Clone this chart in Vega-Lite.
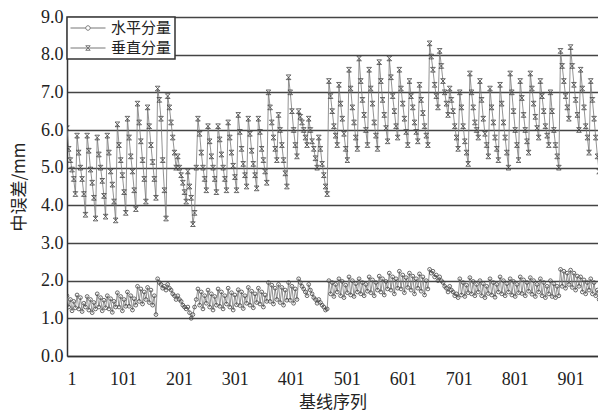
{
"$schema":"https://vega.github.io/schema/vega-lite/v6.json",
"width":531,"height":339,
"autosize":{"type":"none"},
"padding":{"left":67,"top":17,"right":0,"bottom":61},
"background":"white",
"config":{"view":{"stroke":null},"font":"Liberation Serif"},
"data":{"values":[
{"i":1,"h":1.6,"v":6.05},{"i":4,"h":1.3,"v":5.5},{"i":7,"h":1.5,"v":5.2},{"i":10,"h":1.2,"v":4.95},{"i":13,"h":1.45,"v":4.7},{"i":16,"h":1.28,"v":4.3},
{"i":19,"h":1.62,"v":5.85},{"i":22,"h":1.25,"v":5.4},{"i":25,"h":1.55,"v":5.0},{"i":28,"h":1.18,"v":4.7},{"i":31,"h":1.4,"v":4.3},{"i":34,"h":1.3,"v":3.75},
{"i":37,"h":1.58,"v":5.85},{"i":40,"h":1.22,"v":5.45},{"i":43,"h":1.5,"v":4.95},{"i":46,"h":1.15,"v":4.6},{"i":49,"h":1.42,"v":4.2},{"i":52,"h":1.25,"v":3.65},
{"i":55,"h":1.65,"v":5.8},{"i":58,"h":1.3,"v":5.35},{"i":61,"h":1.55,"v":5.0},{"i":64,"h":1.2,"v":4.65},{"i":67,"h":1.48,"v":4.25},{"i":70,"h":1.28,"v":3.7},
{"i":73,"h":1.6,"v":5.85},{"i":76,"h":1.25,"v":5.4},{"i":79,"h":1.52,"v":4.9},{"i":82,"h":1.16,"v":4.55},{"i":85,"h":1.45,"v":4.1},{"i":88,"h":1.3,"v":3.6},
{"i":91,"h":1.68,"v":6.15},{"i":94,"h":1.3,"v":5.6},{"i":97,"h":1.58,"v":5.2},{"i":100,"h":1.2,"v":4.8},{"i":103,"h":1.5,"v":4.35},{"i":106,"h":1.32,"v":3.8},
{"i":109,"h":1.7,"v":6.3},{"i":112,"h":1.32,"v":5.8},{"i":115,"h":1.6,"v":5.3},{"i":118,"h":1.22,"v":4.9},{"i":121,"h":1.52,"v":4.4},{"i":124,"h":1.35,"v":3.9},
{"i":127,"h":1.85,"v":6.7},{"i":130,"h":1.45,"v":6.2},{"i":133,"h":1.78,"v":5.7},{"i":136,"h":1.38,"v":5.2},{"i":139,"h":1.7,"v":4.7},{"i":142,"h":1.5,"v":4.1},
{"i":145,"h":1.82,"v":6.6},{"i":148,"h":1.42,"v":6.1},{"i":151,"h":1.75,"v":5.6},{"i":154,"h":1.35,"v":5.15},{"i":157,"h":1.6,"v":4.7},{"i":160,"h":1.1,"v":4.2},
{"i":163,"h":2.05,"v":7.1},{"i":166,"h":1.95,"v":6.8},{"i":169,"h":1.9,"v":6.3},{"i":172,"h":1.8,"v":5.2},{"i":175,"h":1.85,"v":4.4},{"i":178,"h":1.75,"v":3.65},
{"i":181,"h":1.9,"v":6.9},{"i":184,"h":1.8,"v":6.6},{"i":187,"h":1.75,"v":6.2},{"i":190,"h":1.65,"v":5.8},{"i":193,"h":1.6,"v":5.4},{"i":196,"h":1.5,"v":5.0},
{"i":199,"h":1.6,"v":5.3},{"i":202,"h":1.5,"v":5.0},{"i":205,"h":1.45,"v":4.8},{"i":208,"h":1.35,"v":4.6},{"i":211,"h":1.3,"v":4.35},{"i":214,"h":1.25,"v":4.1},
{"i":217,"h":1.3,"v":4.9},{"i":220,"h":1.15,"v":4.5},{"i":223,"h":1.0,"v":4.2},{"i":226,"h":1.1,"v":3.5},{"i":229,"h":1.3,"v":3.8},{"i":232,"h":1.5,"v":5.0},
{"i":235,"h":1.78,"v":6.3},{"i":238,"h":1.35,"v":5.9},{"i":241,"h":1.7,"v":5.4},{"i":244,"h":1.25,"v":5.0},{"i":247,"h":1.6,"v":4.7},{"i":250,"h":1.4,"v":4.4},
{"i":253,"h":1.75,"v":6.1},{"i":256,"h":1.3,"v":5.7},{"i":259,"h":1.65,"v":5.3},{"i":262,"h":1.22,"v":5.0},{"i":265,"h":1.58,"v":4.7},{"i":268,"h":1.35,"v":4.35},
{"i":271,"h":1.78,"v":6.1},{"i":274,"h":1.32,"v":5.75},{"i":277,"h":1.7,"v":5.35},{"i":280,"h":1.25,"v":5.0},{"i":283,"h":1.6,"v":4.7},{"i":286,"h":1.38,"v":4.4},
{"i":289,"h":1.8,"v":6.2},{"i":292,"h":1.3,"v":5.8},{"i":295,"h":1.68,"v":5.4},{"i":298,"h":1.22,"v":5.05},{"i":301,"h":1.62,"v":4.75},{"i":304,"h":1.36,"v":4.4},
{"i":307,"h":1.76,"v":6.4},{"i":310,"h":1.34,"v":5.95},{"i":313,"h":1.7,"v":5.5},{"i":316,"h":1.26,"v":5.1},{"i":319,"h":1.6,"v":4.8},{"i":322,"h":1.4,"v":4.5},
{"i":325,"h":1.82,"v":6.3},{"i":328,"h":1.35,"v":5.9},{"i":331,"h":1.72,"v":5.45},{"i":334,"h":1.28,"v":5.1},{"i":337,"h":1.65,"v":4.8},{"i":340,"h":1.42,"v":4.45},
{"i":343,"h":1.8,"v":6.3},{"i":346,"h":1.38,"v":5.95},{"i":349,"h":1.7,"v":5.5},{"i":352,"h":1.3,"v":5.2},{"i":355,"h":1.62,"v":4.9},{"i":358,"h":1.45,"v":4.6},
{"i":361,"h":1.95,"v":7.0},{"i":364,"h":1.45,"v":6.6},{"i":367,"h":1.88,"v":6.2},{"i":370,"h":1.38,"v":5.8},{"i":373,"h":1.8,"v":5.5},{"i":376,"h":1.5,"v":5.2},
{"i":379,"h":1.9,"v":6.4},{"i":382,"h":1.42,"v":6.0},{"i":385,"h":1.82,"v":5.6},{"i":388,"h":1.35,"v":5.2},{"i":391,"h":1.75,"v":4.85},{"i":394,"h":1.48,"v":4.5},
{"i":397,"h":1.95,"v":7.4},{"i":400,"h":1.48,"v":7.0},{"i":403,"h":1.85,"v":6.5},{"i":406,"h":1.4,"v":6.0},{"i":409,"h":1.78,"v":5.6},{"i":412,"h":1.5,"v":5.3},
{"i":415,"h":2.05,"v":6.5},{"i":418,"h":1.95,"v":6.35},{"i":421,"h":1.85,"v":6.2},{"i":424,"h":1.78,"v":6.0},{"i":427,"h":1.7,"v":5.8},{"i":430,"h":1.6,"v":5.6},
{"i":433,"h":1.9,"v":6.3},{"i":436,"h":1.75,"v":6.0},{"i":439,"h":1.65,"v":5.7},{"i":442,"h":1.55,"v":5.5},{"i":445,"h":1.5,"v":5.25},{"i":448,"h":1.4,"v":5.0},
{"i":451,"h":1.5,"v":5.8},{"i":454,"h":1.42,"v":5.5},{"i":457,"h":1.35,"v":5.1},{"i":460,"h":1.3,"v":4.8},{"i":463,"h":1.22,"v":4.5},{"i":466,"h":1.25,"v":4.3},
{"i":469,"h":2.0,"v":7.3},{"i":472,"h":1.65,"v":6.9},{"i":475,"h":1.95,"v":6.5},{"i":478,"h":1.58,"v":6.1},{"i":481,"h":1.9,"v":5.85},{"i":484,"h":1.7,"v":5.6},
{"i":487,"h":2.05,"v":7.2},{"i":490,"h":1.6,"v":6.7},{"i":493,"h":1.98,"v":6.3},{"i":496,"h":1.55,"v":5.9},{"i":499,"h":1.88,"v":5.5},{"i":502,"h":1.68,"v":5.2},
{"i":505,"h":2.1,"v":7.6},{"i":508,"h":1.62,"v":7.1},{"i":511,"h":2.0,"v":6.6},{"i":514,"h":1.58,"v":6.2},{"i":517,"h":1.92,"v":5.8},{"i":520,"h":1.7,"v":5.5},
{"i":523,"h":2.05,"v":7.9},{"i":526,"h":1.65,"v":7.3},{"i":529,"h":1.95,"v":6.8},{"i":532,"h":1.6,"v":6.4},{"i":535,"h":1.9,"v":6.0},{"i":538,"h":1.72,"v":5.6},
{"i":541,"h":2.1,"v":7.6},{"i":544,"h":1.68,"v":7.1},{"i":547,"h":2.02,"v":6.7},{"i":550,"h":1.6,"v":6.2},{"i":553,"h":1.95,"v":5.85},{"i":556,"h":1.75,"v":5.5},
{"i":559,"h":2.12,"v":7.8},{"i":562,"h":1.7,"v":7.3},{"i":565,"h":2.05,"v":6.8},{"i":568,"h":1.62,"v":6.4},{"i":571,"h":1.98,"v":6.05},{"i":574,"h":1.78,"v":5.7},
{"i":577,"h":2.2,"v":7.9},{"i":580,"h":1.75,"v":7.4},{"i":583,"h":2.1,"v":6.9},{"i":586,"h":1.65,"v":6.5},{"i":589,"h":2.05,"v":6.1},{"i":592,"h":1.8,"v":5.8},
{"i":595,"h":2.25,"v":7.6},{"i":598,"h":1.78,"v":7.1},{"i":601,"h":2.15,"v":6.7},{"i":604,"h":1.68,"v":6.3},{"i":607,"h":2.08,"v":5.95},{"i":610,"h":1.82,"v":5.6},
{"i":613,"h":2.2,"v":7.3},{"i":616,"h":1.75,"v":6.9},{"i":619,"h":2.12,"v":6.6},{"i":622,"h":1.65,"v":6.2},{"i":625,"h":2.05,"v":5.95},{"i":628,"h":1.8,"v":5.7},
{"i":631,"h":2.18,"v":7.2},{"i":634,"h":1.72,"v":6.8},{"i":637,"h":2.1,"v":6.45},{"i":640,"h":1.62,"v":6.1},{"i":643,"h":2.0,"v":5.85},{"i":646,"h":1.78,"v":5.6},
{"i":649,"h":2.3,"v":8.3},{"i":652,"h":2.2,"v":7.95},{"i":655,"h":2.25,"v":7.6},{"i":658,"h":2.1,"v":7.2},{"i":661,"h":2.15,"v":6.9},{"i":664,"h":2.0,"v":6.6},
{"i":667,"h":2.1,"v":8.1},{"i":670,"h":2.0,"v":7.7},{"i":673,"h":1.95,"v":7.3},{"i":676,"h":1.85,"v":7.0},{"i":679,"h":1.8,"v":6.7},{"i":682,"h":1.7,"v":6.4},
{"i":685,"h":1.85,"v":7.1},{"i":688,"h":1.75,"v":6.8},{"i":691,"h":1.7,"v":6.5},{"i":694,"h":1.6,"v":6.1},{"i":697,"h":1.65,"v":5.8},{"i":700,"h":1.55,"v":5.5},
{"i":703,"h":2.05,"v":7.0},{"i":706,"h":1.62,"v":6.6},{"i":709,"h":1.95,"v":6.1},{"i":712,"h":1.58,"v":5.7},{"i":715,"h":1.88,"v":5.4},{"i":718,"h":1.68,"v":5.1},
{"i":721,"h":2.08,"v":7.5},{"i":724,"h":1.65,"v":7.0},{"i":727,"h":1.98,"v":6.6},{"i":730,"h":1.6,"v":6.2},{"i":733,"h":1.9,"v":6.0},{"i":736,"h":1.7,"v":5.8},
{"i":739,"h":2.0,"v":7.3},{"i":742,"h":1.6,"v":6.8},{"i":745,"h":1.92,"v":6.3},{"i":748,"h":1.55,"v":5.9},{"i":751,"h":1.85,"v":5.6},{"i":754,"h":1.66,"v":5.3},
{"i":757,"h":2.05,"v":7.1},{"i":760,"h":1.62,"v":6.6},{"i":763,"h":1.95,"v":6.2},{"i":766,"h":1.56,"v":5.8},{"i":769,"h":1.9,"v":5.5},{"i":772,"h":1.7,"v":5.2},
{"i":775,"h":2.1,"v":7.2},{"i":778,"h":1.65,"v":6.7},{"i":781,"h":2.0,"v":6.2},{"i":784,"h":1.6,"v":5.8},{"i":787,"h":1.92,"v":5.4},{"i":790,"h":1.7,"v":5.0},
{"i":793,"h":2.05,"v":7.5},{"i":796,"h":1.62,"v":7.0},{"i":799,"h":1.98,"v":6.5},{"i":802,"h":1.58,"v":6.0},{"i":805,"h":1.9,"v":5.6},{"i":808,"h":1.68,"v":5.2},
{"i":811,"h":2.1,"v":7.3},{"i":814,"h":1.66,"v":6.85},{"i":817,"h":2.02,"v":6.4},{"i":820,"h":1.6,"v":6.0},{"i":823,"h":1.95,"v":5.7},{"i":826,"h":1.72,"v":5.4},
{"i":829,"h":2.08,"v":7.5},{"i":832,"h":1.64,"v":7.1},{"i":835,"h":2.0,"v":6.7},{"i":838,"h":1.58,"v":6.35},{"i":841,"h":1.9,"v":6.05},{"i":844,"h":1.7,"v":5.8},
{"i":847,"h":2.05,"v":7.3},{"i":850,"h":1.6,"v":6.9},{"i":853,"h":1.95,"v":6.5},{"i":856,"h":1.55,"v":6.1},{"i":859,"h":1.85,"v":5.85},{"i":862,"h":1.65,"v":5.6},
{"i":865,"h":2.0,"v":7.0},{"i":868,"h":1.58,"v":6.5},{"i":871,"h":1.92,"v":6.0},{"i":874,"h":1.55,"v":5.6},{"i":877,"h":1.85,"v":5.3},{"i":880,"h":1.6,"v":5.0},
{"i":883,"h":2.3,"v":8.1},{"i":886,"h":1.85,"v":7.7},{"i":889,"h":2.25,"v":7.3},{"i":892,"h":1.8,"v":6.9},{"i":895,"h":2.2,"v":6.6},{"i":898,"h":1.9,"v":6.3},
{"i":901,"h":2.28,"v":8.2},{"i":904,"h":1.82,"v":7.7},{"i":907,"h":2.2,"v":7.2},{"i":910,"h":1.75,"v":6.8},{"i":913,"h":2.12,"v":6.4},{"i":916,"h":1.85,"v":6.0},
{"i":919,"h":2.1,"v":7.6},{"i":922,"h":1.7,"v":7.1},{"i":925,"h":2.02,"v":6.6},{"i":928,"h":1.65,"v":6.1},{"i":931,"h":1.95,"v":5.8},{"i":934,"h":1.75,"v":5.4},
{"i":937,"h":2.05,"v":7.3},{"i":940,"h":1.65,"v":6.8},{"i":943,"h":1.95,"v":6.3},{"i":946,"h":1.6,"v":5.8},{"i":949,"h":1.75,"v":5.3},{"i":952,"h":1.5,"v":4.9}
]},
"transform":[{"fold":["h","v"],"as":["key","value"]}],
"encoding":{
"x":{"field":"i","type":"quantitative","scale":{"domain":[1,950],"nice":false,"zero":false},
"axis":{"values":[1,101,201,301,401,501,601,701,801,901],"title":"基线序列","grid":false,"ticks":false,"labelFontSize":18,"labelFont":"Liberation Serif","labelColor":"#222","labelPadding":14,"domainColor":"#333","domainWidth":1.5,"titleFont":"Noto Sans CJK SC","titleFontSize":17,"titleFontWeight":"normal","titleColor":"#222","titlePadding":6}},
"y":{"field":"value","type":"quantitative","scale":{"domain":[0,9],"nice":false},
"axis":{"values":[0,1,2,3,4,5,6,7,8,9],"format":".1f","title":"中误差/mm","grid":true,"gridColor":"#444","gridWidth":1.5,"gridOpacity":1,"ticks":false,"labelFontSize":18,"labelFont":"Liberation Serif","labelColor":"#222","labelPadding":4,"domainColor":"#333","domainWidth":1.5,"titleFont":"Noto Sans CJK SC","titleFontSize":17,"titleFontWeight":"normal","titleColor":"#222","titlePadding":12}}
},
"layer":[
{"mark":{"type":"line","strokeWidth":0.8,"clip":true},
"encoding":{"color":{"field":"key","type":"nominal","scale":{"domain":["h","v"],"range":["#777","#777"]},
"legend":{"orient":"top-left","offset":0,"title":null,"fillColor":"white","strokeColor":"#333","padding":3,"symbolSize":225,"labelOffset":25,"rowPadding":4,"labelFont":"Noto Sans CJK SC","labelFontSize":15,"labelColor":"#222","labelExpr":"datum.label === 'h' ? '水平分量' : '垂直分量'",
"encode":{"legend":{"update":{"strokeWidth":{"value":1.5}}},"symbols":{"update":{"size":{"value":225},"shape":{"signal":"datum.value === 'h' ? 'M-1,0H1.03M1.63,0H3.67M1.03,0A0.3,0.3,0,1,1,1.63,0A0.3,0.3,0,1,1,1.03,0' : 'M-1,0H3.67M1.03,-0.3L1.63,-0.3L1.03,0.3L1.63,0.3Z'"},"fill":{"value":"transparent"},"stroke":{"value":"#444"},"strokeWidth":{"value":1}}}}}}}},
{"transform":[{"filter":"datum.key === 'h'"}],"mark":{"type":"point","shape":"circle","filled":false,"size":14,"stroke":"#444","strokeWidth":0.8,"opacity":1,"clip":true},"encoding":{}},
{"transform":[{"filter":"datum.key === 'v'"}],"mark":{"type":"point","shape":"M-1,-1L1,-1L-1,1L1,1Z","filled":false,"size":22,"stroke":"#444","strokeWidth":0.8,"opacity":1,"clip":true},"encoding":{}}
]
}
